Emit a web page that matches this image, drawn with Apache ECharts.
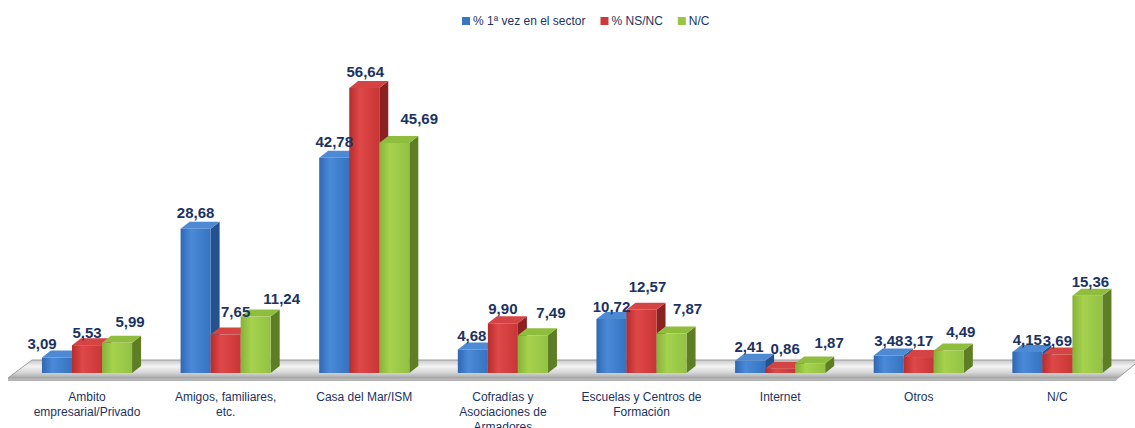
<!DOCTYPE html>
<html>
<head>
<meta charset="utf-8">
<script src="https://cdn.jsdelivr.net/npm/echarts@6/dist/echarts.min.js"></script>
<style>
  html, body { margin: 0; padding: 0; background: #fff; }
  #chart { width: 1135px; height: 428px; }
</style>
</head>
<body>
<div id="chart"></div>
<script>
var categories = [
  "Ambito\nempresarial/Privado",
  "Amigos, familiares,\netc.",
  "Casa del Mar/ISM",
  "Cofradías y\nAsociaciones de\nArmadores",
  "Escuelas y Centros de\nFormación",
  "Internet",
  "Otros",
  "N/C"
];
var seriesNames = ["% 1ª vez en el sector", "% NS/NC", "N/C"];
var primeraVez = [3.09, 28.68, 42.78, 4.68, 10.72, 2.41, 3.48, 4.15];
var nsnc = [5.53, 7.65, 56.64, 9.90, 12.57, 0.86, 3.17, 3.69];
var nc = [5.99, 11.24, 45.69, 7.49, 7.87, 1.87, 4.49, 15.36];

// the value labels were moved by hand in the original, nudge them (px)
var nudgeX = [
  [-15, 0, 0, -1, 0, -1, 0, 0],
  [0, 10, 1, 0, 6, 5, 0, 0],
  [13, 26, 25, 18, 16, 19, 12, 3]
];
var nudgeY = [
  [0, -2, -2, 0, 1, 0, -1, 1],
  [1, -9, -2, -1, -9, -6, -3, 0],
  [-7, -4, -11, -9, -11, -7, -5, 0]
];

// front / side / top colours for each series
var palette = [
  { front: ["#2f67b3", "#4a8ad8", "#3573c0"], side: "#24528f", top: "#4d8ad3", legend: "#3a76c4" },
  { front: ["#b82c2c", "#df4848", "#c93535"], side: "#8a2222", top: "#d44444", legend: "#cc3a3a" },
  { front: ["#86b23a", "#a6d24e", "#93c143"], side: "#5e7d25", top: "#8fbd3e", legend: "#9ac444" }
];

var DX = 9, DY = 7; // fake depth of the 3d boxes
var textColor = "#1b3263";

function fmt(v) {
  return v.toFixed(2).replace(".", ",");
}

function makeRender(sIdx) {
  var c = palette[sIdx];
  return function (params, api) {
    var i = api.value(0), v = api.value(1);
    var top = api.coord([i, v]);
    var base = api.coord([i, 0]);
    var band = api.size([1, 0])[0];
    var bw = band * 0.65 / 3;
    var x0 = top[0] + (sIdx - 1) * bw - bw / 2;
    var x1 = x0 + bw;
    var yt = top[1], yb = base[1];
    return {
      type: "group",
      children: [
        {
          type: "polygon",
          shape: { points: [[x1, yt], [x1 + DX, yt - DY], [x1 + DX, yb - DY], [x1, yb]] },
          style: { fill: c.side }
        },
        {
          type: "polygon",
          shape: { points: [[x0, yt], [x1, yt], [x1 + DX, yt - DY], [x0 + DX, yt - DY]] },
          style: { fill: c.top }
        },
        {
          type: "rect",
          shape: { x: x0, y: yt, width: bw, height: yb - yt },
          style: {
            fill: {
              type: "linear", x: 0, y: 0, x2: 1, y2: 0,
              colorStops: [
                { offset: 0, color: c.front[0] },
                { offset: 0.35, color: c.front[1] },
                { offset: 1, color: c.front[2] }
              ]
            }
          }
        },
        {
          type: "text",
          z2: 100,
          style: {
            text: fmt(v),
            x: (x0 + x1) / 2 + nudgeX[sIdx][i],
            y: yt - 14 + nudgeY[sIdx][i],
            align: "center",
            verticalAlign: "middle",
            fill: textColor,
            font: "bold 15px 'Liberation Sans', Arial, sans-serif"
          }
        }
      ]
    };
  };
}

var allData = [primeraVez, nsnc, nc];
var series = allData.map(function (arr, s) {
  return {
    name: seriesNames[s],
    type: "custom",
    renderItem: makeRender(s),
    itemStyle: { color: palette[s].legend },
    encode: { x: 0, y: 1 },
    data: arr.map(function (v, i) { return [i, v]; })
  };
});

var chart = echarts.init(document.getElementById("chart"), null, { renderer: "svg" });
chart.setOption({
  animation: false,
  legend: {
    top: 10,
    left: 457,
    icon: "rect",
    itemWidth: 8,
    itemHeight: 8,
    itemGap: 15,
    textStyle: { color: textColor, fontSize: 12, fontFamily: "Liberation Sans, Arial, sans-serif", padding: [0, 0, 0, -2] },
    data: seriesNames
  },
  grid: { left: 17.7, right: 8.3, top: 71, bottom: 55, outerBoundsMode: "none", containLabel: false },
  xAxis: {
    type: "category",
    data: categories,
    axisLine: { show: false },
    axisTick: { show: false },
    axisLabel: {
      margin: 16,
      interval: 0,
      color: textColor,
      fontSize: 12,
      lineHeight: 15,
      fontFamily: "Liberation Sans, Arial, sans-serif"
    }
  },
  yAxis: {
    type: "value",
    min: 0,
    max: 60,
    show: false,
    splitLine: { show: false }
  },
  graphic: [
    {
      type: "polygon",
      z: 0,
      shape: { points: [[32, 360], [1140, 360], [1118, 378], [8, 378]] },
      style: {
        fill: {
          type: "linear", x: 0, y: 0, x2: 0, y2: 1,
          colorStops: [
            { offset: 0, color: "#c8c8c8" },
            { offset: 0.35, color: "#f4f4f4" },
            { offset: 0.7, color: "#d6d6d6" },
            { offset: 1, color: "#a9a9a9" }
          ]
        },
        stroke: "#9a9a9a",
        lineWidth: 1
      }
    },
    {
      type: "polygon",
      z: 0,
      shape: { points: [[8, 378], [1118, 378], [1116, 381], [8, 381]] },
      style: { fill: "#b5b5b5" }
    }
  ],
  series: series
});
</script>
</body>
</html>
